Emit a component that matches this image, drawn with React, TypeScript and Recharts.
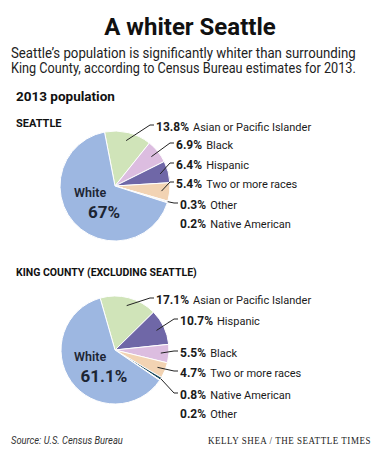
import { useLayoutEffect, useRef, useState } from "react";
import { PieChart, Pie, Cell } from "recharts";

const seattleGroups = ["Asian or Pacific Islander", "Black", "Hispanic", "Two or more races", "Other", "Native American", "White"];
const seattleShares = [13.8, 6.9, 6.4, 5.4, 0.3, 0.2, 67];

const kingGroups = ["Asian or Pacific Islander", "Hispanic", "Black", "Two or more races", "Native American", "Other", "White"];
const kingShares = [17.1, 10.7, 5.5, 4.7, 0.8, 0.2, 61.1];

const groupColors: Record<string, string> = {
  "White": "#9db7e1",
  "Asian or Pacific Islander": "#d0e4b9",
  "Black": "#dcbde0",
  "Hispanic": "#6f67a7",
  "Two or more races": "#f2d3b3",
  "Native American": "#1f4f63",
  "Other": "#b4b4b4",
};

// label placement, relative to the pie centre
const seattleLabelY = [-61, -43, -23, -4, 17, 36];
const seattleLabelX = [41, 61, 61, 61, 65, 65];
const seattleLeader = [true, true, true, true, true, false];
const kingLabelY = [-52, -31, 1, 21, 43, 62];
const kingLabelX = [41, 65, 65, 65, 65, 65];
const kingLeader = [true, true, true, true, true, false];

const RADIAN = Math.PI / 180;
const ink = "#1a1a1a";

const toRows = (groups: string[], shares: number[]) => groups.map((g, i) => ({ name: g, value: shares[i] }));

// squeezes a line of text horizontally so it spans `width` px (the original uses a condensed face)
function FitText(props: any) {
  const { x, y, width, children, ...rest } = props;
  const ref = useRef<SVGTextElement>(null);
  const [sx, setSx] = useState(1);
  useLayoutEffect(() => {
    if (ref.current) {
      const w = ref.current.getComputedTextLength();
      if (w > 0) setSx(width / w);
    }
  }, [width]);
  return (
    <text ref={ref} transform={`translate(${x},${y}) scale(${sx},1)`} {...rest}>
      {children}
    </text>
  );
}

const makeLabel = (labelX: number[], labelY: number[], leader: boolean[]) => (props: any) => {
  const { cx, cy, midAngle, outerRadius, index, name, value } = props;
  if (name === "White") {
    return (
      <g>
        <text x={cx - 41} y={cy + 7} fontSize={12.5} fontWeight={600} fill="#1c2533" dy="0.35em">{name}</text>
        <text x={cx - 11} y={cy + 26} fontSize={17} fontWeight={700} fill="#1c2533" textAnchor="middle" dy="0.35em">{value}%</text>
      </g>
    );
  }
  const tx = cx + labelX[index];
  const ty = cy + labelY[index];
  const frac = value < 1 ? 1 : 0.85;
  const sx = cx + outerRadius * frac * Math.cos(-midAngle * RADIAN);
  const sy = cy + outerRadius * frac * Math.sin(-midAngle * RADIAN);
  return (
    <g>
      {leader[index] && (
        <polyline points={`${sx},${sy} ${tx - 6},${ty} ${tx - 2},${ty}`} fill="none" stroke="#222" strokeWidth={1} />
      )}
      <text x={tx} y={ty} dy="0.35em" fill={ink}>
        <tspan fontSize={12} fontWeight={700}>{value}%</tspan>
        <tspan fontSize={11} dx={4}>{name}</tspan>
      </text>
    </g>
  );
};

export default function App() {
  const seattle = toRows(seattleGroups, seattleShares);
  const king = toRows(kingGroups, kingShares);
  return (
    <div style={{ position: "absolute", left: 0, top: 0, width: 380, height: 450, background: "#fff", fontFamily: "Roboto, sans-serif" }}>
      <svg width={380} height={450} style={{ position: "absolute", left: 0, top: 0 }} fontFamily="Roboto, sans-serif">
        <text x={190} y={35} textAnchor="middle" fontSize={24} fontWeight={700} fill="#111">A whiter Seattle</text>
        <FitText x={11} y={58} width={345} fontSize={14} fill="#222">Seattle’s population is significantly whiter than surrounding</FitText>
        <FitText x={11} y={73} width={345} fontSize={14} fill="#222">King County, according to Census Bureau estimates for 2013.</FitText>
        <text x={16} y={101} fontSize={13.5} fontWeight={700} fill="#111">2013 population</text>
        <text x={16} y={127} fontSize={11} fontWeight={700} fill="#111">SEATTLE</text>
        <FitText x={16} y={276} width={181} fontSize={11} fontWeight={700} fill="#111">KING COUNTY (EXCLUDING SEATTLE)</FitText>
        <FitText x={11} y={444} width={112} fontSize={11} fontStyle="italic" fill="#333">Source: U.S. Census Bureau</FitText>
        <FitText x={208} y={444} width={163} fontSize={10} fontFamily="Liberation Serif, serif" letterSpacing={0.6} fill="#222">KELLY SHEA / THE SEATTLE TIMES</FitText>
      </svg>
      <div style={{ position: "absolute", left: 0, top: 0 }}>
        <PieChart width={380} height={450} margin={{ top: 0, right: 0, bottom: 0, left: 0 }}>
          <Pie
            data={seattle}
            dataKey="value"
            nameKey="name"
            cx={115}
            cy={186}
            outerRadius={55}
            startAngle={101}
            endAngle={-259}
            stroke="#fff"
            strokeWidth={1}
            label={makeLabel(seattleLabelX, seattleLabelY, seattleLeader)}
            labelLine={false}
            isAnimationActive={false}>
            {seattle.map((d) => (
              <Cell key={d.name} fill={groupColors[d.name]} />
            ))}
          </Pie>
          <Pie
            data={king}
            dataKey="value"
            nameKey="name"
            cx={115}
            cy={350}
            outerRadius={54}
            startAngle={106}
            endAngle={-254}
            stroke="#fff"
            strokeWidth={1}
            label={makeLabel(kingLabelX, kingLabelY, kingLeader)}
            labelLine={false}
            isAnimationActive={false}>
            {king.map((d) => (
              <Cell key={d.name} fill={groupColors[d.name]} />
            ))}
          </Pie>
        </PieChart>
      </div>
    </div>
  );
}
